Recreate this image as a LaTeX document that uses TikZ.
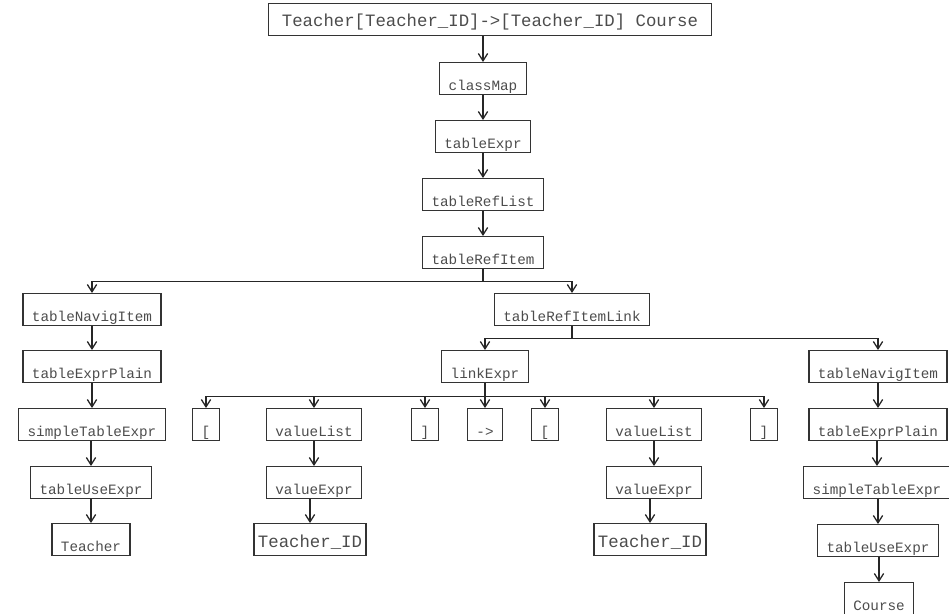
\documentclass[tikz,border=0pt]{standalone}
\usepackage{fontspec}
\setmonofont{Liberation Mono}
\usetikzlibrary{arrows.meta}

\begin{document}
\begin{tikzpicture}[x=0.03cm, y=-0.03cm,
    box/.style={draw=black!80, line width=1.1pt, rectangle, anchor=north, text=black!70,
      font=\ttfamily\fontsize{12.2}{14}\selectfont, inner xsep=0.27cm, inner ysep=0pt,
      text height=0.84cm, text depth=0.12cm},
    root/.style={box, font=\ttfamily\fontsize{14.8}{17}\selectfont, inner xsep=0.4cm, text height=0.69cm, text depth=0.27cm},
    big/.style={box, font=\ttfamily\fontsize{14.8}{17}\selectfont, inner xsep=0.12cm, text height=0.72cm, text depth=0.24cm},
    link/.style={draw=black!85, line width=1.1pt, -{Straight Barb[length=0.22cm,width=0.28cm]}}]
    \useasboundingbox (0,0) rectangle (949,613);

    \node (root) at (490,3) [root] {Teacher[Teacher\_ID]->[Teacher\_ID] Course};
    \node (classmap) at (483,62) [box] {classMap};
    \node (tabexpr) at (483,120) [box] {tableExpr};
    \node (reflist) at (483,178) [box] {tableRefList};
    \node (refitem) at (483,236) [box] {tableRefItem};
    \node (navL) at (92,293) [box] {tableNavigItem};
    \node (itemlink) at (572,293) [box] {tableRefItemLink};
    \node (plainL) at (92,350) [box] {tableExprPlain};
    \node (linkexpr) at (485,350) [box] {linkExpr};
    \node (navR) at (878,350) [box] {tableNavigItem};
    \node (simpleL) at (92,408) [box] {simpleTableExpr};
    \node (lb1) at (206,408) [box] {[};
    \node (vl1) at (314,408) [box] {valueList};
    \node (rb1) at (425,408) [box] {]};
    \node (arrow) at (485,408) [box] {->};
    \node (lb2) at (545,408) [box] {[};
    \node (vl2) at (654,408) [box] {valueList};
    \node (rb2) at (764,408) [box] {]};
    \node (plainR) at (878,408) [box] {tableExprPlain};
    \node (useL) at (91,466) [box] {tableUseExpr};
    \node (ve1) at (314,466) [box] {valueExpr};
    \node (ve2) at (654,466) [box] {valueExpr};
    \node (simpleR) at (877,466) [box] {simpleTableExpr};
    \node (teacher) at (91,523) [box] {Teacher};
    \node (tid1) at (310,523) [big] {Teacher\_ID};
    \node (tid2) at (650,523) [big] {Teacher\_ID};
    \node (useR) at (878,524) [box] {tableUseExpr};
    \node (course) at (879,582) [box] {Course};

    % single children
    \foreach \a/\b in {root/classmap, classmap/tabexpr, tabexpr/reflist, reflist/refitem,
        navL/plainL, plainL/simpleL, simpleL/useL, useL/teacher,
        vl1/ve1, ve1/tid1, vl2/ve2, ve2/tid2,
        navR/plainR, plainR/simpleR, simpleR/useR, useR/course}
      \draw[link] (\a.south -| \b.north) -- (\b.north);

    % branching
    \foreach \c in {navL, itemlink}
      \draw[link] (refitem.south) -- ++(0,12) -| (\c.north);
    \foreach \c in {linkexpr, navR}
      \draw[link] (itemlink.south) -- ++(0,12) -| (\c.north);
    \foreach \c in {lb1, vl1, rb1, arrow, lb2, vl2, rb2}
      \draw[link] (linkexpr.south) -- ++(0,13) -| (\c.north);
\end{tikzpicture}
\end{document}
